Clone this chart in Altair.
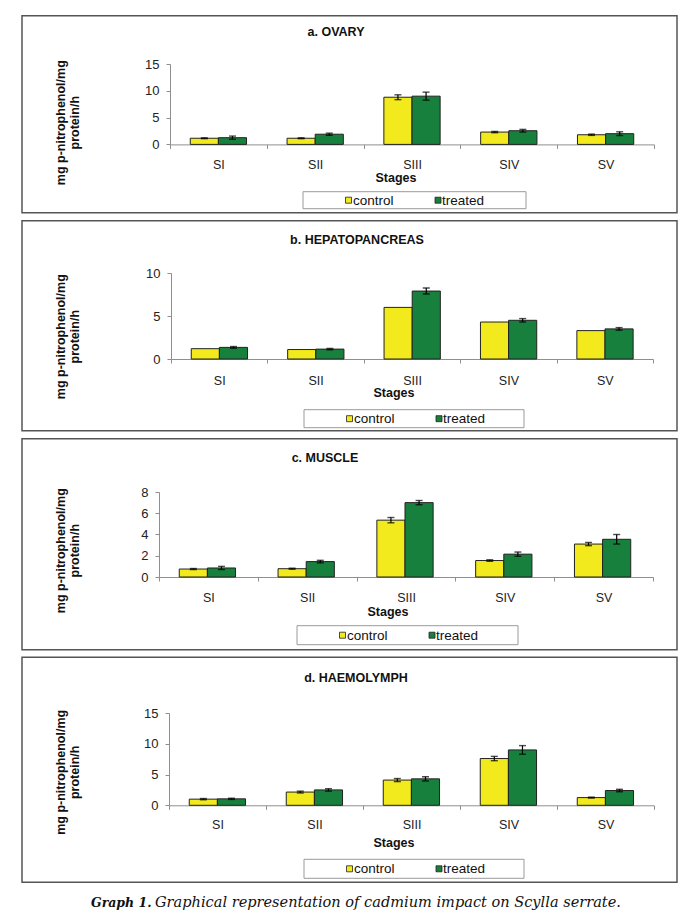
import altair as alt
import pandas as pd

stages = ["SI", "SII", "SIII", "SIV", "SV"]
groups = ["control", "treated"]

# a. OVARY
ovary_control = [1.15, 1.15, 8.8, 2.3, 1.8]
ovary_control_err = [0.08, 0.08, 0.45, 0.12, 0.12]
ovary_treated = [1.25, 1.9, 9.0, 2.55, 2.0]
ovary_treated_err = [0.3, 0.2, 0.75, 0.25, 0.35]

# b. HEPATOPANCREAS
hepato_control = [1.2, 1.1, 6.0, 4.3, 3.3]
hepato_control_err = [0.0, 0.0, 0.0, 0.0, 0.0]
hepato_treated = [1.35, 1.15, 7.9, 4.5, 3.5]
hepato_treated_err = [0.1, 0.08, 0.35, 0.2, 0.15]

# c. MUSCLE
muscle_control = [0.75, 0.78, 5.35, 1.55, 3.1]
muscle_control_err = [0.05, 0.05, 0.25, 0.07, 0.15]
muscle_treated = [0.85, 1.45, 7.0, 2.15, 3.55]
muscle_treated_err = [0.15, 0.12, 0.2, 0.2, 0.45]

# d. HAEMOLYMPH
haemo_control = [1.0, 2.15, 4.1, 7.6, 1.25]
haemo_control_err = [0.1, 0.15, 0.25, 0.35, 0.08]
haemo_treated = [1.05, 2.5, 4.3, 9.0, 2.4]
haemo_treated_err = [0.1, 0.2, 0.35, 0.7, 0.2]

YELLOW = "#F2EA1C"
GREEN = "#17803D"
FONT = "Liberation Sans"

ORIGIN_X = 171  # common plot origin of every panel (page px)

LAYOUT = [
    dict(title="a. OVARY", c=ovary_control, ce=ovary_control_err, t=ovary_treated, te=ovary_treated_err,
         ymax=15, ticks=[0, 5, 10, 15], plot=(171, 655, 63.3, 143.7), box=(15, 212),
         title_xy=(337, 31), ytitle_y=122, label_off=21, stages_xy=(397, 177), legend=(304, 527, 191, 208)),
    dict(title="b. HEPATOPANCREAS", c=hepato_control, ce=hepato_control_err, t=hepato_treated, te=hepato_treated_err,
         ymax=10, ticks=[0, 5, 10], plot=(172, 654, 273.3, 359.3), box=(221, 431),
         title_xy=(358, 240), ytitle_y=337, label_off=22, stages_xy=(395, 393.5), legend=(305, 525, 410, 428)),
    dict(title="c. MUSCLE", c=muscle_control, ce=muscle_control_err, t=muscle_treated, te=muscle_treated_err,
         ymax=8, ticks=[0, 2, 4, 6, 8], plot=(160, 654, 492.3, 577.3), box=(439, 650),
         title_xy=(326, 458), ytitle_y=551, label_off=21, stages_xy=(389, 612.5), legend=(298, 519, 626, 645)),
    dict(title="d. HAEMOLYMPH", c=haemo_control, ce=haemo_control_err, t=haemo_treated, te=haemo_treated_err,
         ymax=15, ticks=[0, 5, 10, 15], plot=(170, 655, 712.7, 805), box=(657, 882),
         title_xy=(357, 678), ytitle_y=772, label_off=20, stages_xy=(395, 842.5), legend=(305, 525, 859, 878)),
]

BOX_X = (23, 678)
ONE = pd.DataFrame({"_": [0]})


def make_panel(cfg, caption=False):
    L, R, T, B = cfg["plot"]
    W, H = 655 - ORIGIN_X, B - T

    def rx(X):
        return X - ORIGIN_X

    def ry(Y):
        return Y - T

    df = pd.DataFrame({
        "stage": stages * 2,
        "group": ["control"] * 5 + ["treated"] * 5,
        "value": list(cfg["c"]) + list(cfg["t"]),
        "err": list(cfg["ce"]) + list(cfg["te"]),
    })
    df["lo"] = df["value"] - df["err"]
    df["hi"] = df["value"] + df["err"]

    yscale = alt.Scale(domain=[0, cfg["ymax"]], nice=False, zero=True)
    xscale = alt.Scale(domain=stages, paddingInner=0, paddingOuter=0, range=[rx(L), rx(R)])
    offscale = alt.Scale(domain=groups, paddingInner=0, paddingOuter=0.72)
    cscale = alt.Scale(domain=groups, range=[YELLOW, GREEN])

    xaxis = alt.Axis(title=None, labelAngle=0, tickBand="extent", tickSize=4,
                     domainColor="#8f8f8f", tickColor="#8f8f8f", labelFontSize=12.5,
                     labelColor="#222222", labelPadding=cfg["label_off"] - 11,
                     labelFont=FONT)
    yaxis = alt.Axis(title=None, values=cfg["ticks"], grid=False, tickSize=4,
                     domainColor="#8f8f8f", tickColor="#8f8f8f", labelFontSize=13,
                     labelColor="#222222", labelPadding=7, labelFont=FONT,
                     offset=ORIGIN_X - L)

    def xenc():
        return alt.X("stage:N", scale=xscale, sort=stages, axis=xaxis)

    def oenc():
        return alt.XOffset("group:N", scale=offscale, sort=groups)

    base = alt.Chart(df)
    bars = base.mark_bar(stroke="#222222", strokeWidth=1).encode(
        x=xenc(), xOffset=oenc(),
        y=alt.Y("value:Q", scale=yscale, axis=yaxis),
        color=alt.Color("group:N", scale=cscale, legend=None),
    )
    eb = base.transform_filter("datum.err > 0")
    rules = eb.mark_rule(color="black", strokeWidth=1.2).encode(
        x=xenc(), xOffset=oenc(),
        y=alt.Y("lo:Q", scale=yscale, axis=yaxis),
        y2="hi:Q",
    )
    caps_lo = eb.mark_tick(color="black", orient="horizontal", size=7, thickness=1.4).encode(
        x=xenc(), xOffset=oenc(),
        y=alt.Y("lo:Q", scale=yscale, axis=yaxis),
    )
    caps_hi = eb.mark_tick(color="black", orient="horizontal", size=7, thickness=1.4).encode(
        x=xenc(), xOffset=oenc(),
        y=alt.Y("hi:Q", scale=yscale, axis=yaxis),
    )

    one = alt.Chart(ONE)
    bt, bb = cfg["box"]
    box = one.mark_rect(fill="white", fillOpacity=0, stroke="#555555", strokeWidth=1.5).encode(
        x=alt.value(rx(BOX_X[0])), x2=alt.value(rx(BOX_X[1])),
        y=alt.value(ry(bt)), y2=alt.value(ry(bb)),
    )
    tx, ty = cfg["title_xy"]
    title = one.mark_text(text=cfg["title"], font=FONT, fontSize=12.5, fontWeight="bold",
                          align="center", baseline="middle", color="#111111").encode(
        x=alt.value(rx(tx)), y=alt.value(ry(ty)))
    ytitle = one.mark_text(text="mg p-nitrophenol/mg\nprotein/h", lineBreak="\n", angle=270,
                           font=FONT, fontSize=12.5, fontWeight="bold", lineHeight=14,
                           align="center", baseline="middle", color="#111111").encode(
        x=alt.value(rx(62)), y=alt.value(ry(cfg["ytitle_y"])))
    sx, sy = cfg["stages_xy"]
    stg = one.mark_text(text="Stages", font=FONT, fontSize=12.5, fontWeight="bold",
                        align="center", baseline="middle", color="#111111").encode(
        x=alt.value(rx(sx)), y=alt.value(ry(sy)))

    lx1, lx2, ly1, ly2 = cfg["legend"]
    lyc = (ly1 + ly2) / 2
    lbox = one.mark_rect(fill="white", stroke="#9a9a9a", strokeWidth=1).encode(
        x=alt.value(rx(lx1)), x2=alt.value(rx(lx2)), y=alt.value(ry(ly1)), y2=alt.value(ry(ly2)))
    leg_layers = [lbox]
    for name, col, sq, tx0 in [("control", YELLOW, 45.5, 50), ("treated", GREEN, 135, 139)]:
        leg_layers.append(one.mark_square(size=36, fill=col, fillOpacity=1, stroke="#222222",
                                          strokeWidth=0.8).encode(
            x=alt.value(rx(lx1 + sq)), y=alt.value(ry(lyc))))
        leg_layers.append(one.mark_text(text=name, font=FONT, fontSize=13.5, align="left",
                                        baseline="middle", color="#111111").encode(
            x=alt.value(rx(lx1 + tx0)), y=alt.value(ry(lyc + 0.5))))

    layers = [box, bars, rules, caps_lo, caps_hi, title, ytitle, stg] + leg_layers
    if caption:
        cy = 903
        layers.append(one.mark_text(text="Graph 1.", font="DejaVu Serif", fontSize=12.5,
                                    fontStyle="italic", fontWeight="bold", align="left",
                                    baseline="middle", color="#111111").encode(
            x=alt.value(rx(92)), y=alt.value(ry(cy))))
        layers.append(one.mark_text(text="Graphical representation of cadmium impact on Scylla serrate.",
                                    font="DejaVu Serif", fontSize=14.55, fontStyle="italic",
                                    align="left", baseline="middle", color="#111111").encode(
            x=alt.value(rx(156)), y=alt.value(ry(cy))))
    return alt.layer(*layers).properties(width=W, height=H)


panels = [make_panel(cfg, caption=(i == 3)) for i, cfg in enumerate(LAYOUT)]

chart = alt.concat(*panels, columns=1, spacing=5).properties(
    padding={"left": 13, "top": 6, "right": 0, "bottom": 0}
).configure(font=FONT).configure_view(strokeWidth=0, stroke="transparent")

chart.save("out.html", embed_options={"renderer": "svg", "actions": False})
